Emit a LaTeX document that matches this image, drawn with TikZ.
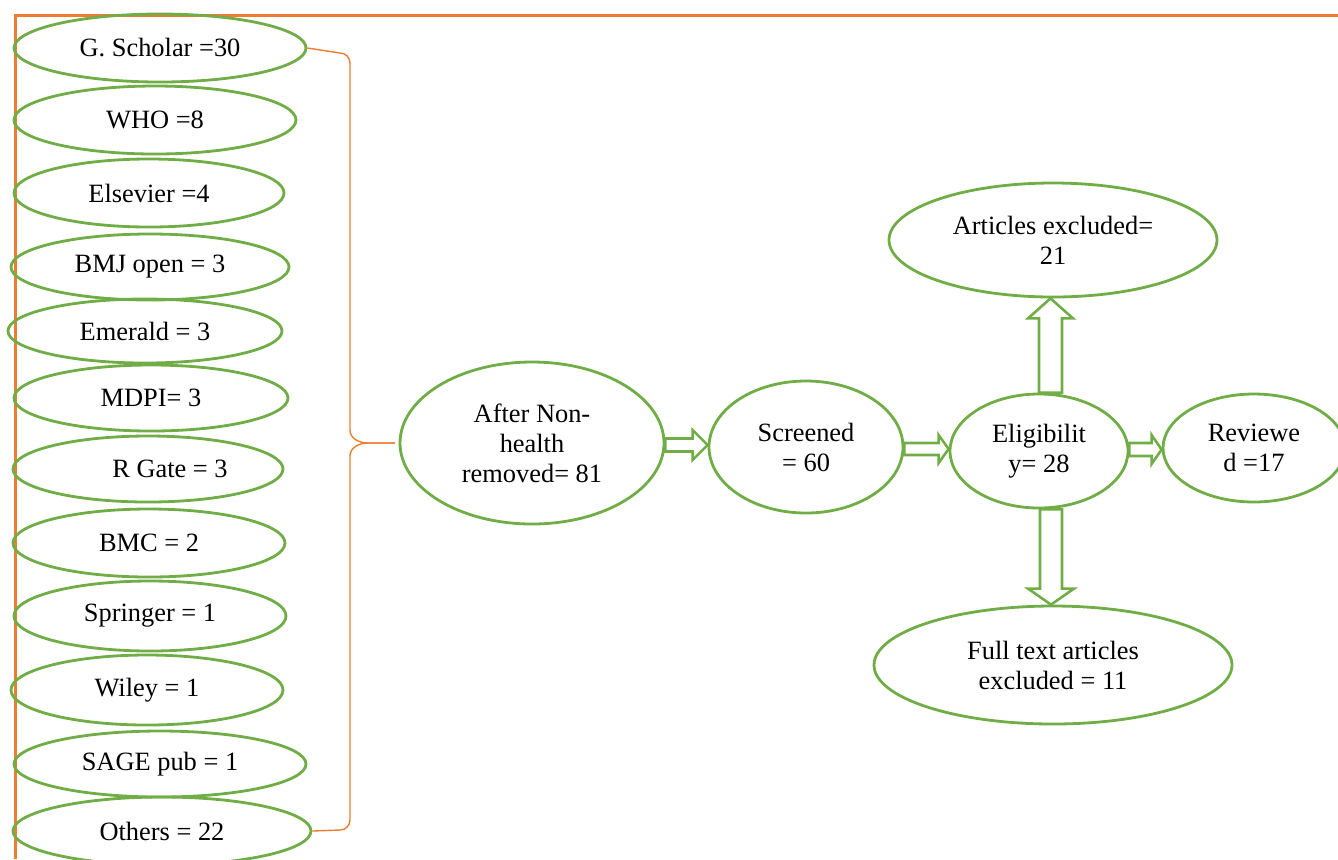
\documentclass[tikz,border=0pt]{standalone}
\usepackage{fontspec}
\setmainfont{Liberation Serif}
\usetikzlibrary{shapes.geometric,calc}
\definecolor{frameor}{RGB}{237,125,49}
\definecolor{ellgreen}{RGB}{112,173,71}
\newcommand\hblockarrow[5]{%
\draw[barrow] let \p1=(#1), \p2=(#2), \n1={0.5*\y1+0.5*\y2} in
 ({\x1},{\n1+#3}) -- ({\x2-#5},{\n1+#3}) -- ({\x2-#5},{\n1+#4}) -- ({\x2},{\n1}) --
 ({\x2-#5},{\n1-#4}) -- ({\x2-#5},{\n1-#3}) -- ({\x1},{\n1-#3}) -- cycle;}
\newcommand\vblockarrow[6]{%
\draw[barrow] let \p1=(#1), \p2=(#2), \n1={\x2+#6}, \n2={\y2-#5} in
 ({\n1+#3},{\y1}) -- ({\n1+#3},{\n2}) -- ({\n1+#4},{\n2}) -- ({\n1},{\y2}) --
 ({\n1-#4},{\n2}) -- ({\n1-#3},{\n2}) -- ({\n1-#3},{\y1}) -- cycle;}
\begin{document}
\begin{tikzpicture}[x=0.5pt,y=-0.5pt,
 ell/.style={ellipse, draw=ellgreen, line width=1.4pt, inner sep=0pt, align=center,
   font=\fontsize{13.2}{15}\selectfont},
 barrow/.style={draw=ellgreen, line width=1.3pt, line join=miter},
 brace/.style={draw=frameor, line width=0.7pt},
 frameline/.style={draw=frameor, line width=1.5pt}]
\useasboundingbox (0,0) rectangle (1338,859);
\draw[frameline] (15,859) -- (15,15) -- (1338,15);

\node[ell, minimum width=146pt, minimum height=34pt] (g) at (160,48) {G. Scholar =30};
\node[ell, minimum width=141pt, minimum height=34pt] (who) at (155,120) {WHO =8};
\node[ell, minimum width=135pt, minimum height=34pt] (els) at (149,193) {Elsevier =4};
\node[ell, minimum width=139pt, minimum height=33pt] (bmj) at (150,267) {BMJ open = 3};
\node[ell, minimum width=137pt, minimum height=32pt] (eme) at (145,331) {Emerald = 3};
\node[ell, minimum width=137pt, minimum height=33pt] (mdpi) at (151,398) {MDPI= 3};
\node[ell, minimum width=135pt, minimum height=33pt] (rg) at (148,469) {\hspace*{22pt}R Gate = 3};
\node[ell, minimum width=136pt, minimum height=34pt] (bmc) at (149,543) {BMC = 2};
\node[ell, minimum width=136pt, minimum height=35pt] (spr) at (150,616) {Springer = 1};
\node[ell, minimum width=136pt, minimum height=35pt] (wil) at (147,690) {Wiley = 1};
\node[ell, minimum width=146pt, minimum height=33pt] (sage) at (160,764) {SAGE pub = 1};
\node[ell, minimum width=149pt, minimum height=34pt] (oth) at (162,831) {Others = 22};

\node[ell, minimum width=132pt, minimum height=81pt] (after) at (532,443) {After Non-\\health\\removed= 81};
\node[ell, minimum width=97pt, minimum height=66pt] (scr) at (806,447) {Screened\\= 60};
\node[ell, minimum width=89pt, minimum height=57pt] (elig) at (1039,451) {Eligibilit\\y= 28};
\node[ell, minimum width=91pt, minimum height=54pt] (rev) at (1254,448) {Reviewe\\d =17};
\node[ell, minimum width=164pt, minimum height=57pt] (art) at (1053,240) {Articles excluded=\\21};
\node[ell, minimum width=179pt, minimum height=59pt] (full) at (1053,665) {Full text articles\\excluded = 11};

\coordinate (tip) at (395,443);
\draw[brace] (g.east) -- (340,53) to[out=0,in=90] (350,63) -- (350,430)
  to[out=-90,in=180] (368,443) -- (tip);
\draw[brace] (tip) -- (368,443) to[out=180,in=90] (350,456) -- (350,820)
  to[out=-90,in=0] (340,830) -- (oth.east);

\hblockarrow{after.east}{scr.west}{3.25pt}{7.5pt}{7.5pt}
\hblockarrow{scr.east}{elig.west}{3pt}{7pt}{5pt}
\hblockarrow{elig.east}{rev.west}{3.25pt}{7.25pt}{5pt}
\vblockarrow{elig.north}{art.south}{5.75pt}{11.25pt}{10pt}{-1.25pt}
\vblockarrow{elig.south}{full.north}{5.5pt}{11.5pt}{-8pt}{-1pt}
\end{tikzpicture}
\end{document}
